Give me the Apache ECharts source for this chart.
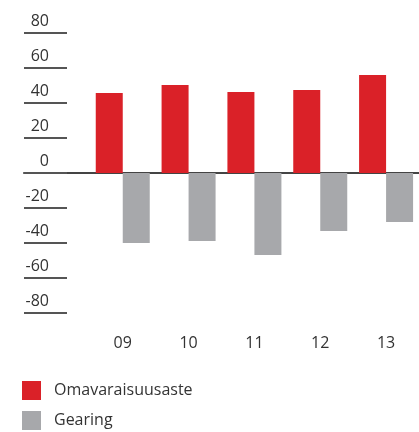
<!DOCTYPE html>
<html>
<head>
<meta charset="utf-8">
<script src="https://cdn.jsdelivr.net/npm/echarts@6/dist/echarts.min.js"></script>
<style>
  html, body { margin: 0; padding: 0; background: #fff; }
  #chart { width: 419px; height: 432px; }
</style>
</head>
<body>
<div id="chart"></div>
<script>
// leading blank category keeps the left ticks and zero line inside the grid
const years = ['', '09', '10', '11', '12', '13'];
const equityRatio = [null, 45.7, 50.3, 46.3, 47.4, 56.0];
const gearing = [null, -40.0, -38.9, -46.9, -33.1, -28.0];
const seriesNames = ['Omavaraisuusaste', 'Gearing'];

const font = '"Open Sans", "Noto Sans", sans-serif';
const textColor = '#333';

const chart = echarts.init(document.getElementById('chart'));
chart.setOption({
  animation: false,
  textStyle: { fontFamily: font },
  grid: { left: 24, right: -3, top: 33, bottom: 119 },
  legend: {
    orient: 'vertical',
    left: 22,
    top: 381,
    height: 60,
    padding: 0,
    icon: 'rect',
    itemWidth: 19,
    itemHeight: 19,
    itemGap: 11,
    textStyle: { fontFamily: font, fontSize: 16, lineHeight: 19, color: textColor, padding: [0, 0, 0, 8] },
    data: seriesNames
  },
  xAxis: [
    {
      type: 'category',
      data: years,
      position: 'bottom',
      axisLine: { show: false, onZero: false },
      axisTick: { show: false },
      axisLabel: { fontFamily: font, fontSize: 16, color: textColor, margin: 22 }
    },
    {
      type: 'category',
      data: years,
      axisLine: { show: true, onZero: true, lineStyle: { color: '#444', width: 2 } },
      axisTick: { show: false },
      axisLabel: { show: false }
    }
  ],
  yAxis: {
    type: 'value',
    min: -80,
    max: 80,
    interval: 20,
    axisLine: { show: false },
    splitLine: { show: false },
    axisTick: { show: true, inside: true, length: 43, lineStyle: { color: '#555', width: 2 } },
    axisLabel: {
      inside: true,
      align: 'right',
      verticalAlign: 'bottom',
      margin: 25,
      padding: [0, 0, 4, 0],
      fontFamily: font,
      fontSize: 16,
      color: textColor
    }
  },
  series: [
    {
      name: seriesNames[0],
      type: 'bar',
      data: equityRatio,
      barWidth: 27,
      barGap: '0%',
      itemStyle: { color: '#DA2128' }
    },
    {
      name: seriesNames[1],
      type: 'bar',
      data: gearing,
      barWidth: 27,
      barGap: '0%',
      itemStyle: { color: '#A7A8AB' }
    }
  ]
});
</script>
</body>
</html>
